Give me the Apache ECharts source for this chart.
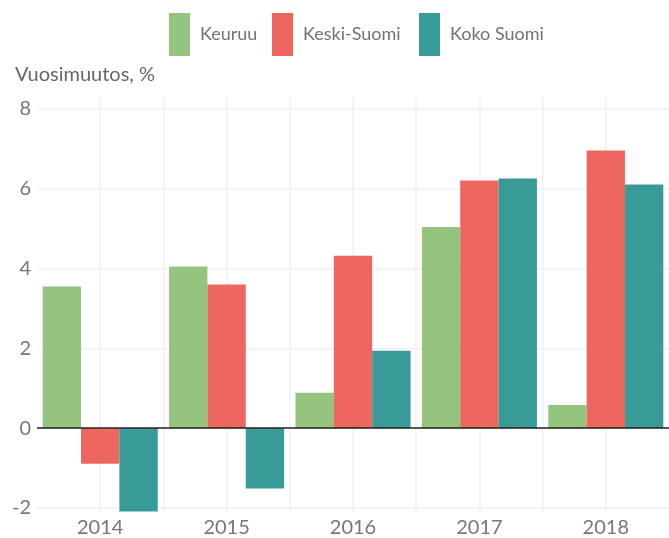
<!DOCTYPE html>
<html>
<head>
<meta charset="utf-8">
<script src="https://cdn.jsdelivr.net/npm/echarts@6/dist/echarts.min.js"></script>
<style>
  html, body { margin: 0; padding: 0; background: #fff; }
  #main { width: 669px; height: 538px; }
</style>
</head>
<body>
<div id="main"></div>
<script>
// vuodet
const years = ['2014', '2015', '2016', '2017', '2018']
// vuosimuutos %, luettu kuvasta
const keuruu = [3.55, 4.05, 0.89, 5.04, 0.58]
const keskiSuomi = [-0.89, 3.6, 4.32, 6.21, 6.96]
const kokoSuomi = [-2.09, -1.51, 1.94, 6.26, 6.11]
const yTicks = [-2, 0, 2, 4, 6, 8]
const names = ['Keuruu', 'Keski-Suomi', 'Koko Suomi']
const legendLeft = [169, 272, 419]

const font = 'Lato'
const chart = echarts.init(document.getElementById('main'))

// jokainen selite omaan kohtaansa
const legends = names.map((n, i) => ({
  left: legendLeft[i],
  top: 13,
  padding: 0,
  icon: 'rect',
  itemWidth: 21,
  itemHeight: 43,
  textStyle: { fontFamily: font, fontSize: 18, color: '#737373', padding: [0, 0, 0, 5] },
  data: [n]
}))

const option = {
  animation: false,
  textStyle: { fontFamily: font },
  color: ['#94c47d', '#ee6660', '#389b97'],
  title: {
    text: 'Vuosimuutos, %',
    left: 10,
    top: 60,
    textStyle: { fontFamily: font, fontSize: 20, fontWeight: 'normal', color: '#666' }
  },
  legend: legends,
  grid: { left: 37, right: -5, top: 97, bottom: 23 },
  xAxis: [
    {
      type: 'category',
      data: years,
      axisLine: { show: false },
      axisTick: { show: false },
      splitLine: { show: false },
      axisLabel: { fontSize: 20, color: '#777', margin: 6 }
    },
    {
      // apuakseli pystyviivoille (keskikohdat + välit)
      type: 'value',
      min: 0,
      max: 10,
      interval: 1,
      position: 'top',
      axisLine: { show: false },
      axisTick: { show: false },
      axisLabel: { show: false },
      splitLine: { show: true, showMinLine: false, showMaxLine: false, lineStyle: { color: '#f0f0f0', width: 1.5 } }
    }
  ],
  yAxis: {
    type: 'value',
    min: -2.1,
    max: 8.3,
    axisLine: { show: false },
    axisTick: { show: false, customValues: yTicks },
    axisLabel: { fontSize: 20, color: '#777', margin: 6, customValues: yTicks },
    splitLine: { show: true, lineStyle: { color: '#f0f0f0', width: 1.5 } }
  },
  series: [
    {
      name: 'Keuruu',
      type: 'bar',
      data: keuruu,
      barGap: '0%',
      barCategoryGap: '9%',
      clip: false,
      markLine: {
        silent: true,
        symbol: 'none',
        label: { show: false },
        lineStyle: { color: '#222', width: 1.5, type: 'solid' },
        data: [{ yAxis: 0 }],
        z: 10
      }
    },
    { name: 'Keski-Suomi', type: 'bar', data: keskiSuomi, barGap: '0%', barCategoryGap: '9%', clip: false },
    { name: 'Koko Suomi', type: 'bar', data: kokoSuomi, barGap: '0%', barCategoryGap: '9%', clip: false }
  ]
}

option && chart.setOption(option)
</script>
</body>
</html>
